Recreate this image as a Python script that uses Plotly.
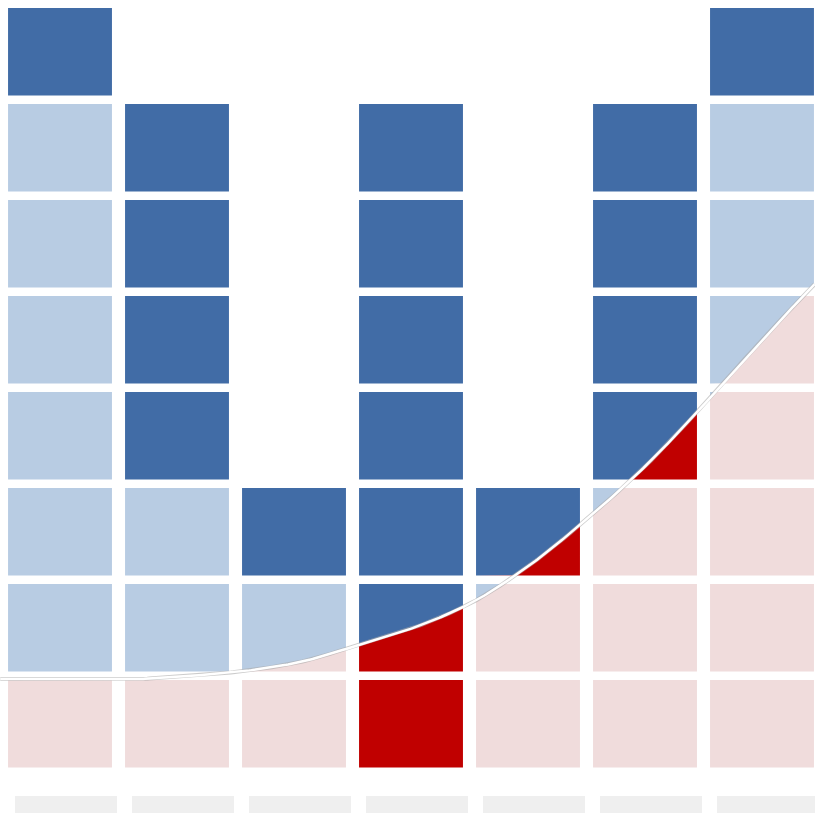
import numpy as np
import plotly.graph_objects as go

# ---- data ----
columns = ["1", "2", "3", "4", "5", "6", "7"]
total_cells = [8, 7, 3, 7, 3, 7, 8]      # height of each column in cells
dark_cells = [1, 4, 1, 7, 1, 4, 1]       # highlighted cells counted from the top
curve_x = [-0.51, 0.0, 0.5, 1.0, 1.5, 2.0, 2.5, 3.0, 3.5, 4.0, 4.5, 5.0, 5.5, 6.0, 6.45]
curve_y = [0.967, 0.967, 0.96, 0.99, 1.04, 1.13, 1.30, 1.49, 1.75, 2.14, 2.63, 3.18, 3.82, 4.50, 5.08]

DARK_BLUE = "#416CA6"
LIGHT_BLUE = "#B8CCE3"
PINK = "#F0DCDC"
RED = "#C00000"
GRAY = "#EFEFEF"


def pchip(xk, yk, x):
    xk = np.asarray(xk, float)
    yk = np.asarray(yk, float)
    h = np.diff(xk)
    d = np.diff(yk) / h
    n = len(xk)
    m = np.zeros(n)
    m[0], m[-1] = d[0], d[-1]
    for i in range(1, n - 1):
        if d[i - 1] * d[i] <= 0:
            m[i] = 0.0
        else:
            w1 = 2 * h[i] + h[i - 1]
            w2 = h[i] + 2 * h[i - 1]
            m[i] = (w1 + w2) / (w1 / d[i - 1] + w2 / d[i])
    x = np.asarray(x, float)
    idx = np.clip(np.searchsorted(xk, x) - 1, 0, n - 2)
    t = (x - xk[idx]) / h[idx]
    h00 = 2 * t**3 - 3 * t**2 + 1
    h10 = t**3 - 2 * t**2 + t
    h01 = -2 * t**3 + 3 * t**2
    h11 = t**3 - t**2
    return h00 * yk[idx] + h10 * h[idx] * m[idx] + h01 * yk[idx + 1] + h11 * h[idx] * m[idx + 1]


def curve(x):
    return pchip(curve_x, curve_y, x)


HALF_W = 0.444
PAD = 0.045

polys = {DARK_BLUE: ([], []), LIGHT_BLUE: ([], []), PINK: ([], []), RED: ([], [])}


def add_poly(color, xs, ys):
    px, py = polys[color]
    px.extend(list(xs) + [None])
    py.extend(list(ys) + [None])


for i, (tot, dk) in enumerate(zip(total_cells, dark_cells)):
    x0, x1 = i - HALF_W, i + HALF_W
    xs = np.linspace(x0, x1, 120)
    c = curve(xs)
    for k in range(tot):
        y0, y1 = k + PAD, k + 1 - PAD
        is_dark = k >= tot - dk
        above_col = DARK_BLUE if is_dark else LIGHT_BLUE
        below_col = RED if is_dark else PINK
        if np.any(c < y1):
            lower = np.clip(c, y0, y1)
            add_poly(above_col, [x0] + list(xs) + [x1], [y1] + list(lower) + [y1])
        if np.any(c > y0):
            upper = np.clip(c, y0, y1)
            add_poly(below_col, [x0] + list(xs) + [x1], [y0] + list(upper) + [y0])

fig = go.Figure()

for color, (px, py) in polys.items():
    fig.add_trace(go.Scatter(x=px, y=py, mode="lines", fill="toself",
                             fillcolor=color, line=dict(width=0, color=color),
                             hoverinfo="skip", showlegend=False))

# gray placeholder boxes under each column
gx, gy = [], []
for i, _ in enumerate(columns):
    a, b = i - 0.385, i + 0.487
    gx += [a, b, b, a, a, None]
    gy += [-0.252, -0.252, -0.7, -0.7, -0.252, None]
fig.add_trace(go.Scatter(x=gx, y=gy, mode="lines", fill="toself", fillcolor=GRAY,
                         line=dict(width=0, color=GRAY), hoverinfo="skip", showlegend=False))

# the curve
cx = np.linspace(curve_x[0], curve_x[-1], 400)
cy = curve(cx)
fig.add_trace(go.Scatter(x=cx, y=cy, mode="lines", line=dict(color="rgba(170,170,170,0.6)", width=4),
                         hoverinfo="skip", showlegend=False))
fig.add_trace(go.Scatter(x=cx, y=cy, mode="lines", line=dict(color="white", width=2.5),
                         hoverinfo="skip", showlegend=False))

fig.update_layout(
    width=815, height=813,
    margin=dict(l=0, r=0, t=0, b=0),
    paper_bgcolor="white", plot_bgcolor="white",
    xaxis=dict(range=[(0 - 60) / 117, (815 - 60) / 117], visible=False, fixedrange=True),
    yaxis=dict(range=[(771.8 - 813) / 96, 771.8 / 96], visible=False, fixedrange=True),
    showlegend=False,
)

fig.write_html(
    "out.html",
    config={"displayModeBar": False},
    post_script="document.body.style.margin='0';document.body.style.overflow='hidden';"
                "document.documentElement.style.overflow='hidden';",
)
